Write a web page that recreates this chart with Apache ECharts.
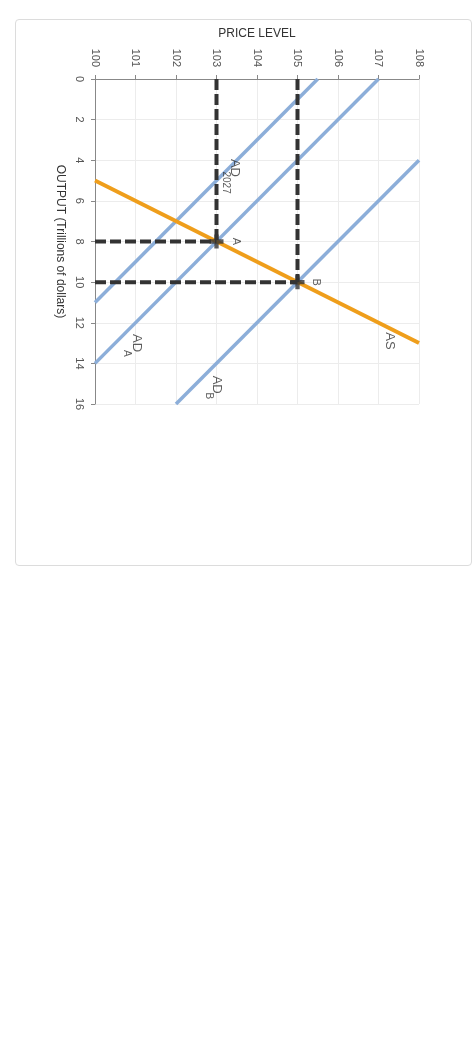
<!DOCTYPE html>
<html>
<head>
<meta charset="utf-8">
<script src="https://cdn.jsdelivr.net/npm/echarts@6/dist/echarts.min.js"></script>
<style>
html,body{margin:0;padding:0;background:#fff;width:474px;height:1043px;overflow:hidden;}
#card{position:absolute;left:15px;top:19px;width:457px;height:547px;border:1px solid #dcdcdc;border-radius:4px;box-sizing:border-box;}
#chart{position:absolute;left:0;top:0;width:474px;height:1043px;}
</style>
</head>
<body>
<div id="card"></div>
<div id="chart"></div>
<script>
// Axis ranges / ticks
const priceTicks = [100,101,102,103,104,105,106,107,108];
const outputTicks = [0,2,4,6,8,10,12,14,16];

// Curves: [price level, output]
const asCurve = [[100,5],[108,13]];
const ad2027 = [[105.5,0],[100,11]];
const adA = [[107,0],[100,14]];
const adB = [[108,4],[102,16]];

// Equilibrium points
const equilibria = [[103,8,'A'],[105,10,'B']];

// Dashed guide lines
const guideA_v = [[103,0],[103,8]];
const guideA_h = [[100,8],[103,8]];
const guideB_v = [[105,0],[105,10]];
const guideB_h = [[100,10],[105,10]];

// Text annotations: [price, output, text, kind]
const annotations = [
  [103.45,4.38,'AD','main'],
  [103.22,5.1,'2027','sub'],
  [103.47,8.0,'A','pt'],
  [105.45,10.0,'B','pt'],
  [107.28,12.9,'AS','main'],
  [101.02,13.0,'AD','main'],
  [100.78,13.5,'A','sub'],
  [103.0,15.05,'AD','main'],
  [102.8,15.6,'B','sub']
];

const FONT = 'Liberation Sans, Arial, Helvetica, sans-serif';
const BLUE = '#8caed9';
const ORANGE = '#ef9e1b';
const DARK = '#333333';

const chart = echarts.init(document.getElementById('chart'), null, {renderer:'canvas'});

function lineSeries(data, color, width, dashed){
  return {
    type:'line', data:data, symbol:'none', silent:true, animation:false,
    lineStyle:{color:color, width:width, type: dashed ? [11,4] : 'solid', cap:'butt'},
    z: dashed ? 3 : 2
  };
}

const option = {
  animation:false,
  grid:{left:95, top:79, width:324, height:325, containLabel:false},
  xAxis:{
    type:'value', position:'top', min:priceTicks[0], max:priceTicks[priceTicks.length-1], interval:1,
    name:'PRICE LEVEL', nameLocation:'middle', nameGap:39,
    nameTextStyle:{fontFamily:FONT, fontSize:12, color:'#333'},
    axisLine:{show:true, lineStyle:{color:'#888', width:1}},
    axisTick:{show:true, length:4, lineStyle:{color:'#888'}},
    axisLabel:{rotate:-90, margin:12, fontFamily:FONT, fontSize:11, color:'#555'},
    splitLine:{show:true, lineStyle:{color:'#ececec', width:1}}
  },
  yAxis:{
    type:'value', inverse:true, min:outputTicks[0], max:outputTicks[outputTicks.length-1], interval:2,
    name:'OUTPUT (Trillions of dollars)', nameLocation:'middle', nameGap:29, nameRotate:-90,
    nameTextStyle:{fontFamily:FONT, fontSize:12, color:'#333'},
    axisLine:{show:true, lineStyle:{color:'#888', width:1}},
    axisTick:{show:true, length:4, lineStyle:{color:'#888'}},
    axisLabel:{rotate:-90, margin:10, fontFamily:FONT, fontSize:11, color:'#555'},
    splitLine:{show:true, lineStyle:{color:'#ececec', width:1}}
  },
  series:[
    lineSeries(ad2027, BLUE, 3.5, false),
    lineSeries(adA, BLUE, 3.5, false),
    lineSeries(adB, BLUE, 3.5, false),
    lineSeries(asCurve, ORANGE, 4, false),
    lineSeries(guideA_v, DARK, 4, true),
    lineSeries(guideA_h, DARK, 4, true),
    lineSeries(guideB_v, DARK, 4, true),
    lineSeries(guideB_h, DARK, 4, true),
    {
      type:'scatter', silent:true, animation:false, z:5,
      data:equilibria.map(d=>[d[0],d[1]]),
      symbol:'path://M-2,-6.5 L2,-6.5 L2,-2 L6.5,-2 L6.5,2 L2,2 L2,6.5 L-2,6.5 L-2,2 L-6.5,2 L-6.5,-2 L-2,-2 Z',
      symbolSize:14,
      itemStyle:{color:DARK}
    },
    {
      type:'scatter', silent:true, animation:false, z:6,
      symbolSize:0,
      data:annotations.map(a=>({value:[a[0],a[1]], name:a[2], kind:a[3]})),
      label:{
        show:true, position:'inside', rotate:-90,
        fontFamily:FONT, color:'#333',
        formatter:p=>p.name,
        fontSize:12
      }
    }
  ]
};
// per-item font sizes
option.series[option.series.length-1].data.forEach(d=>{
  const fs = d.kind==='main' ? 13 : (d.kind==='sub' ? 10 : 11);
  d.label = {fontSize:fs};
});
chart.setOption(option);
</script>
</body>
</html>
